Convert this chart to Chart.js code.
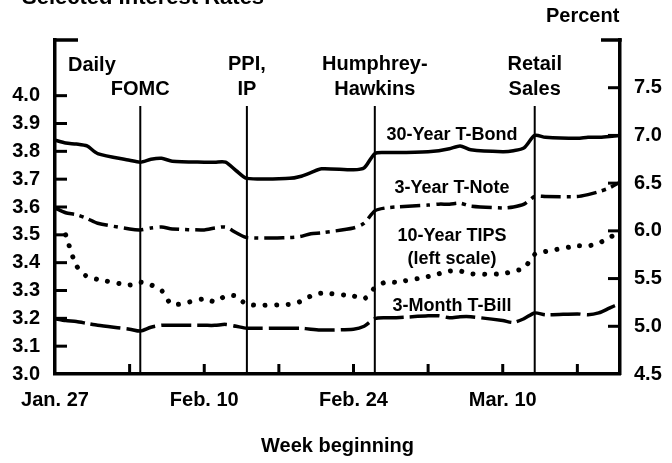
<!DOCTYPE html>
<html>
<head>
<meta charset="utf-8">
<script src="https://cdn.jsdelivr.net/npm/chart.js@4.4.1/dist/chart.umd.min.js"></script>
<style>
  html, body { margin: 0; padding: 0; background: #fff; }
  #wrap { width: 672px; height: 463px; }
</style>
</head>
<body>
<div id="wrap"><canvas id="rates" width="672" height="463"></canvas></div>
<script>
// x = calendar days after Jan. 27 (business days only, Feb. 17 holiday skipped)
const days = [
  0, 1, 2, 3, 4,
  7, 8, 9, 10, 11,
  14, 15, 16, 17, 18,
  22, 23, 24, 25,
  28, 29, 30, 31, 32,
  35, 36, 37, 38, 39,
  42, 43, 44, 45, 46,
  49, 50, 51, 52, 53
];

// right scale (percent)
const bond30 = [
  6.95, 6.92, 6.91, 6.89, 6.81,
  6.74, 6.72, 6.75, 6.76, 6.73,
  6.72, 6.72, 6.72, 6.63, 6.55,
  6.55, 6.57, 6.61, 6.65,
  6.64, 6.66, 6.81, 6.82, 6.82,
  6.83, 6.84, 6.86, 6.89, 6.85,
  6.83, 6.84, 6.87, 7.00, 6.98,
  6.97, 6.98, 6.98, 6.99, 7.00
];
const note3 = [
  6.24, 6.19, 6.17, 6.13, 6.08,
  6.02, 6.01, 6.03, 6.04, 6.02,
  6.01, 6.03, 6.04, 5.98, 5.93,
  5.93, 5.94, 5.97, 5.98,
  6.03, 6.08, 6.21, 6.24, 6.25,
  6.27, 6.28, 6.28, 6.29, 6.26,
  6.24, 6.25, 6.28, 6.36, 6.36,
  6.36, 6.38, 6.41, 6.45, 6.51
];
const bill3m = [
  5.08, 5.06, 5.05, 5.03, 5.01,
  4.97, 4.95, 4.99, 5.01, 5.01,
  5.01, 5.01, 5.02, 5.00, 4.98,
  4.98, 4.98, 4.97, 4.96,
  4.97, 5.00, 5.08, 5.09, 5.09,
  5.11, 5.11, 5.09, 5.10, 5.10,
  5.06, 5.04, 5.08, 5.14, 5.12,
  5.13, 5.12, 5.14, 5.19, 5.24
];
// left scale (percent)
const tips10 = [
  null, 3.50, 3.39, 3.35, 3.34,
  3.32, 3.33, 3.32, 3.30, 3.25,
  3.27, 3.26, 3.28, 3.28, 3.25,
  3.25, 3.26, 3.28, 3.29,
  3.28, 3.27, 3.31, 3.33, 3.33,
  3.35, 3.36, 3.37, 3.37, 3.36,
  3.36, 3.37, 3.38, 3.43, 3.44,
  3.46, 3.46, 3.47, 3.49, 3.51
];

const xTickDays = [0, 14, 28, 42];
const xTickText = ["Jan. 27", "Feb. 10", "Feb. 24", "Mar. 10"];

const eventDays = [8, 18, 30, 45];
const eventText = [["FOMC"], ["PPI,", "IP"], ["Humphrey-", "Hawkins"], ["Retail", "Sales"]];

const seriesText = ["30-Year T-Bond", "3-Year T-Note", "10-Year TIPS", "(left scale)", "3-Month T-Bill"];

const FONT = "'Liberation Sans', Arial, Helvetica, sans-serif";

function pts(vals) {
  return days.map((d, i) => ({ x: d, y: vals[i] }));
}

const decor = {
  id: "decor",
  afterDraw(chart) {
    const c = chart.ctx;
    const { left, right, top, bottom } = chart.chartArea;
    const x = chart.scales.x, yL = chart.scales.yL, yR = chart.scales.yR;
    const seg = (x1, y1, x2, y2) => { c.beginPath(); c.moveTo(x1, y1); c.lineTo(x2, y2); c.stroke(); };
    c.save();
    c.strokeStyle = "#000";
    c.fillStyle = "#000";

    // event lines
    c.lineWidth = 2;
    eventDays.forEach(d => {
      const px = x.getPixelForValue(d);
      seg(px, 106, px, bottom);
    });

    // inward tick marks
    c.lineWidth = 3;
    yL.ticks.forEach(t => {
      if (t.value > 3.05 && t.value < 4.05) {
        const py = yL.getPixelForValue(t.value);
        seg(left, py, left + 12, py);
      }
    });
    yR.ticks.forEach(t => {
      if (t.value > 4.55 && t.value < 7.55) {
        const py = yR.getPixelForValue(t.value);
        seg(right - 12, py, right, py);
      }
    });
    x.ticks.forEach(t => {
      if (t.value > 0 && t.value < 53) {
        const px = x.getPixelForValue(t.value);
        seg(px, bottom, px, bottom - 10);
      }
    });

    // bracket tops
    c.lineWidth = 3.5;
    seg(left - 1.75, top, left + 23, top);
    seg(right - 19, top, right + 1.75, top);

    // titles
    c.textBaseline = "alphabetic";
    c.textAlign = "left";
    c.font = "bold 22px " + FONT;
    c.fillText("Selected Interest Rates", 22, 4);
    c.font = "bold 20px " + FONT;
    c.fillText("Percent", 546, 22);
    c.fillText("Daily", 68, 71);

    // event labels
    c.textAlign = "center";
    c.font = "bold 20px " + FONT;
    eventDays.forEach((d, i) => {
      const px = x.getPixelForValue(d);
      const lines = eventText[i];
      lines.forEach((s, j) => {
        c.fillText(s, px, 95 - (lines.length - 1 - j) * 25);
      });
    });

    // series labels
    c.font = "bold 18px " + FONT;
    const sy = [140, 193, 241, 264, 311];
    seriesText.forEach((s, i) => c.fillText(s, 452, sy[i]));
    c.restore();
  }
};

const tickFont = { family: FONT, size: 20, weight: "bold" };

const ctx = document.getElementById("rates").getContext("2d");
new Chart(ctx, {
  type: "line",
  data: {
    datasets: [
      {
        label: "30-Year T-Bond",
        data: pts(bond30),
        yAxisID: "yR",
        borderColor: "#000",
        borderWidth: 3.5,
      },
      {
        label: "3-Year T-Note",
        data: pts(note3),
        yAxisID: "yR",
        borderColor: "#000",
        borderWidth: 3.5,
        borderDash: [20, 6, 4, 6],
      },
      {
        label: "10-Year TIPS",
        data: pts(tips10),
        yAxisID: "yL",
        borderColor: "#000",
        borderWidth: 5,
        borderCapStyle: "round",
        borderDash: [0.01, 11.5],
      },
      {
        label: "3-Month T-Bill",
        data: pts(bill3m),
        yAxisID: "yR",
        borderColor: "#000",
        borderWidth: 3.5,
        borderDash: [30, 6],
      },
    ],
  },
  options: {
    responsive: false,
    animation: false,
    devicePixelRatio: 1,
    layout: { padding: { top: 40, left: 0, right: 0, bottom: 0 } },
    plugins: { legend: { display: false }, tooltip: { enabled: false } },
    elements: {
      point: { radius: 0 },
      line: { tension: 0.25, fill: false },
    },
    scales: {
      x: {
        type: "linear",
        position: "bottom",
        min: 0,
        max: 53,
        grid: { display: false, drawTicks: false },
        border: { display: true, width: 3.5, color: "#000" },
        ticks: {
          stepSize: 7,
          includeBounds: false,
          autoSkip: false,
          maxRotation: 0,
          padding: 14,
          color: "#000",
          font: tickFont,
          callback: v => {
            const k = xTickDays.indexOf(v);
            return k >= 0 ? xTickText[k] : "";
          },
        },
        title: {
          display: true,
          text: "Week beginning",
          color: "#000",
          font: { family: FONT, size: 20, weight: "bold" },
          padding: { top: 0, bottom: 5 },
        },
        afterFit: s => { s.height = 89; },
      },
      yL: {
        position: "left",
        min: 3.0,
        max: 4.2,
        grid: { display: false, drawTicks: false },
        border: { display: true, width: 3.5, color: "#000" },
        ticks: {
          stepSize: 0.1,
          includeBounds: false,
          autoSkip: false,
          padding: 15,
          color: "#000",
          font: tickFont,
          callback: v => (v < 4.05 ? v.toFixed(1) : ""),
        },
        afterFit: s => { s.width = 55; },
      },
      yR: {
        position: "right",
        min: 4.5,
        max: 8.0,
        grid: { display: false, drawTicks: false },
        border: { display: true, width: 3.5, color: "#000" },
        ticks: {
          stepSize: 0.5,
          includeBounds: false,
          autoSkip: false,
          padding: 14,
          color: "#000",
          font: tickFont,
          callback: v => (v < 7.55 ? v.toFixed(1) : ""),
        },
        afterFit: s => { s.width = 52; },
      },
    },
  },
  plugins: [decor],
});
</script>
</body>
</html>
